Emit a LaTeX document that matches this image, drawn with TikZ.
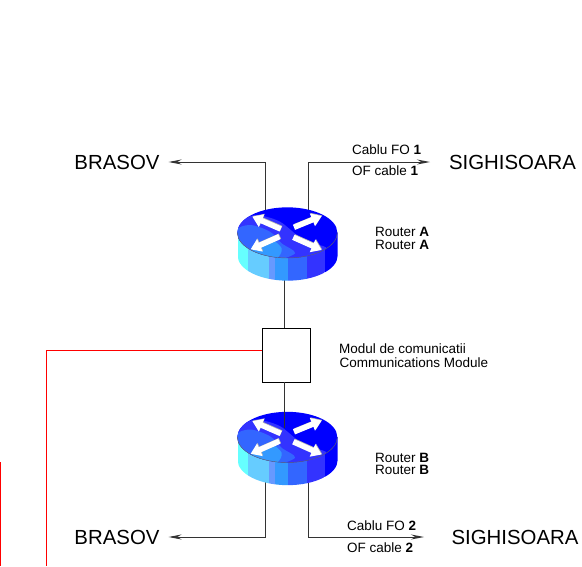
\documentclass[tikz,border=0pt]{standalone}
\usepackage{fontspec}
\setmainfont{Liberation Sans}
\usetikzlibrary{arrows.meta}
\definecolor{wa}{HTML}{66FFFF}
\definecolor{wb}{HTML}{66CCFF}
\definecolor{wc}{HTML}{6699FF}
\definecolor{wd}{HTML}{3399FF}
\definecolor{we}{HTML}{3366FF}
\definecolor{wf}{HTML}{3333FF}
\definecolor{wg}{HTML}{0000FF}
\tikzset{
  bigtext/.style={inner sep=0pt,font=\fontsize{20.4}{22}\selectfont},
  smalltext/.style={inner sep=0pt,anchor=base west,font=\fontsize{13.5}{14}\selectfont},
  routerbox/.style={inner sep=0pt,minimum width=99pt,minimum height=74pt},
  modulebox/.style={draw=black,inner sep=0pt,minimum width=48pt,minimum height=54pt,line width=0.8pt},
  link/.style={draw=black!80,line width=1pt},
  linkarrow/.style={link,-{Stealth[length=13pt,width=5pt]}},
  redlink/.style={draw=red,line width=1pt},
  whitearrow/.style={white,line width=5.5pt,-{Triangle[length=10pt,width=13pt]}},
  greyarrow/.style={black!30,line width=5.5pt,-{Triangle[length=10pt,width=13pt]}}
}
\newcommand{\routerart}[1]{%
\begin{scope}[shift={(220,#1)},x=0.3333pt,y=-0.3333pt]
  \begin{scope}
    \clip (53,128) -- (53,197) arc[x radius=150,y radius=75,start angle=180,end angle=0] -- (353,128) -- cycle;
    \fill[wa] (53,100) rectangle (85,280);
    \fill[wb] (85,100) rectangle (148,280);
    \fill[wc] (148,100) rectangle (165,280);
    \fill[wd] (165,100) rectangle (205,280);
    \fill[we] (205,100) rectangle (260,280);
    \fill[wf] (260,100) rectangle (315,280);
    \fill[wg] (315,100) rectangle (353,280);
  \end{scope}
  \begin{scope}
    \clip (202,128) ellipse[x radius=150,y radius=76];
    \fill[wg] (40,40) rectangle (360,215);
    \fill[wf] plot[smooth cycle] coordinates {(50,120) (70,90) (110,75) (180,95) (250,150) (320,175) (260,215) (50,215)};
    \fill[we] plot[smooth cycle] coordinates {(45,125) (90,105) (150,125) (185,160) (225,190) (150,215) (45,210)};
    \fill[wd] plot[smooth cycle] coordinates {(95,170) (150,148) (185,175) (170,205) (120,205)};
  \end{scope}
  \draw[black!60,line width=0.4pt] (52,128) arc[x radius=150,y radius=76,start angle=180,end angle=0];
  \foreach \ax/\ay/\bx/\by in {182/117/97/80,222/112/305/78,178/140/92/178,220/142/305/180}{
    \draw[greyarrow] ([shift={(0.6pt,0.6pt)}]\ax,\ay) -- ([shift={(0.6pt,0.6pt)}]\bx,\by);
    \draw[whitearrow] (\ax,\ay) -- (\bx,\by);
  }
\end{scope}}
\begin{document}
\begin{tikzpicture}[x=1pt,y=-1pt]
\useasboundingbox (0,0) rectangle (582,566);
% nodes
\node[routerbox] (routerA) at (287.5,244) {};
\node[routerbox] (routerB) at (287.5,448.5) {};
\node[modulebox] (module) at (286,355) {};
\node[bigtext,outer xsep=9pt,anchor=center] (brasovA) at (117,162) {BRASOV};
\node[bigtext,outer xsep=9pt,anchor=center] (brasovB) at (117,537) {BRASOV};
\node[bigtext,outer xsep=19pt,anchor=center] (sighA) at (512.5,162) {SIGHISOARA};
\node[bigtext,outer xsep=27.5pt,anchor=center] (sighB) at (515,537) {SIGHISOARA};
\node[smalltext] (cabA) at (352,154) {Cablu FO \textbf{1}};
\node[smalltext] (ofA) at (352,175) {OF cable \textbf{1}};
\node[smalltext] (rA1) at (375,236) {Router \textbf{A}};
\node[smalltext] (rA2) at (375,249.5) {Router \textbf{A}};
\node[smalltext] (mod1) at (339,353) {Modul de comunicatii};
\node[smalltext] (mod2) at (339.5,367) {Communications Module};
\node[smalltext] (rB1) at (375,462) {Router \textbf{B}};
\node[smalltext] (rB2) at (375,474) {Router \textbf{B}};
\node[smalltext] (cabB) at (347,530) {Cablu FO \textbf{2}};
\node[smalltext] (ofB) at (347,552) {OF cable \textbf{2}};
% ports
\coordinate (aL) at (265,220);
\coordinate (aR) at (308,220);
\coordinate (aS) at (284,270);
\coordinate (bN) at (284,428);
\coordinate (bL) at (265,470);
\coordinate (bR) at (308,470);
\coordinate (modN) at (284,328);
\coordinate (modS) at (284,382);
\coordinate (modW) at (262,350);
\coordinate (redEnd) at (46.7,566);
\coordinate (edgeTop) at (0.5,462);
\coordinate (edgeEnd) at (0.5,566);
% connectors under routers
\draw[linkarrow] (aL) |- (brasovA.east);
\draw[linkarrow] (aR) |- (sighA.west);
\draw[link] (aS) -- (modN);
\draw[linkarrow] (bL) |- (brasovB.east);
\draw[linkarrow] (bR) |- (sighB.west);
\draw[redlink] (modW) -| (redEnd);
\draw[redlink] (edgeTop) -- (edgeEnd);
% routers
\routerart{190}
\routerart{394.5}
% connector over router B
\draw[link] (modS) -- (bN);
\end{tikzpicture}
\end{document}
